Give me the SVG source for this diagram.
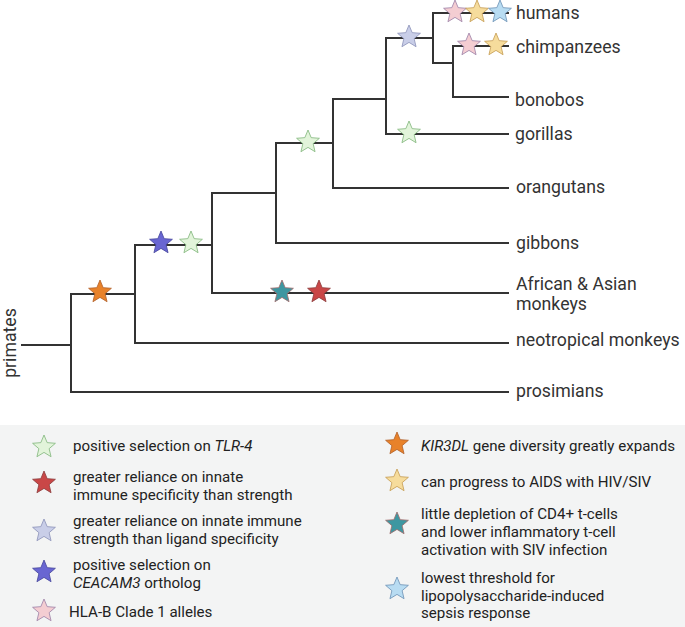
<svg xmlns="http://www.w3.org/2000/svg" xmlns:xlink="http://www.w3.org/1999/xlink" width="685" height="627" viewBox="0 0 685 627">
<style>
.br{fill:none;stroke:#333;stroke-width:2;stroke-linecap:square}
.lbl{font-family:Roboto,"Liberation Sans",sans-serif;font-size:17.7px;fill:#333}
.leg{font-family:Roboto,"Liberation Sans",sans-serif;font-size:15.1px;fill:#222}
.it{font-style:italic}
.green{fill:#e2f4da;stroke:#7fb57a;stroke-width:0.8}
.red{fill:#c94747;stroke:#8a3a3a;stroke-width:0.8}
.lav{fill:#c9cee8;stroke:#8a90b8;stroke-width:0.8}
.purp{fill:#6966d2;stroke:#44449a;stroke-width:0.8}
.pink{fill:#f4cdd2;stroke:#9a7fa6;stroke-width:0.8}
.orng{fill:#e8822a;stroke:#b0602a;stroke-width:0.8}
.yel{fill:#f6dc9c;stroke:#c49a50;stroke-width:0.8}
.teal{fill:#3e97a1;stroke:#a06a6a;stroke-width:0.8}
.blue{fill:#b8dcf2;stroke:#6a8fb4;stroke-width:0.8}
</style>
<defs>
<path id="star" d="M0,-12 L3.17,-4.37 L11.41,-3.71 L5.14,1.67 L7.05,9.71 L0,5.4 L-7.05,9.71 L-5.14,1.67 L-11.41,-3.71 L-3.17,-4.37 Z"/>
</defs>
<rect width="685" height="627" fill="#fff"/>
<g id="connectors">
<path class="br" d="M22,345 H71 M71,294 V392 M71,294 H135 M71,392 H508 M135,245 V343 M135,343 H508 M135,245 H212 M212,193 V293 M212,293 H508 M212,193 H276 M276,143 V243 M276,243 H508 M276,143 H333 M333,99 V188 M333,188 H508 M333,99 H386 M386,38 V134 M386,134 H508 M386,38 H433 M433,13 V63 M433,13 H508 M433,63 H453 M453,46 V97 M453,46 H508 M453,97 H508"/>
</g>
<g id="markers">
<use href="#star" class="orng" x="100" y="292"/>
<use href="#star" class="purp" x="161" y="243"/>
<use href="#star" class="green" x="191" y="243"/>
<use href="#star" class="teal" x="282" y="292"/>
<use href="#star" class="red" x="319" y="292"/>
<use href="#star" class="green" x="308" y="142"/>
<use href="#star" class="green" x="409" y="133"/>
<use href="#star" class="lav" x="409" y="37"/>
<use href="#star" class="pink" x="455" y="12"/>
<use href="#star" class="yel" x="477" y="12"/>
<use href="#star" class="blue" x="500" y="12"/>
<use href="#star" class="pink" x="469" y="45"/>
<use href="#star" class="yel" x="496" y="45"/>
</g>
<g id="root"><text class="lbl" transform="translate(16,343) rotate(-90)" text-anchor="middle">primates</text></g>
<g id="humans"><text class="lbl" x="516" y="19">humans</text></g>
<g id="chimpanzees"><text class="lbl" x="516" y="53">chimpanzees</text></g>
<g id="bonobos"><text class="lbl" x="515" y="106">bonobos</text></g>
<g id="gorillas"><text class="lbl" x="515" y="140">gorillas</text></g>
<g id="orangutans"><text class="lbl" x="516" y="193">orangutans</text></g>
<g id="gibbons"><text class="lbl" x="516" y="249">gibbons</text></g>
<g id="old-world-monkeys"><text class="lbl" x="516" y="290">African &amp; Asian</text><text class="lbl" x="516" y="310">monkeys</text></g>
<g id="neotropical-monkeys"><text class="lbl" x="516" y="346">neotropical monkeys</text></g>
<g id="prosimians"><text class="lbl" x="516" y="397">prosimians</text></g>
<g id="legend">
<rect x="0" y="425" width="685" height="202" fill="#f3f4f4"/>
<use href="#star" class="green" x="44" y="447"/>
<text class="leg" x="73" y="451">positive selection on <tspan class="it">TLR-4</tspan></text>
<use href="#star" class="red" x="44" y="483"/>
<text class="leg" x="73" y="482">greater reliance on innate</text>
<text class="leg" x="73" y="500">immune specificity than strength</text>
<use href="#star" class="lav" x="44" y="531"/>
<text class="leg" x="73" y="526">greater reliance on innate immune</text>
<text class="leg" x="73" y="544">strength than ligand specificity</text>
<use href="#star" class="purp" x="44" y="572"/>
<text class="leg" x="73" y="570">positive selection on</text>
<text class="leg" x="73" y="588"><tspan class="it">CEACAM3</tspan> ortholog</text>
<use href="#star" class="pink" x="44" y="611"/>
<text class="leg" x="69" y="617">HLA-B Clade 1 alleles</text>
<use href="#star" class="orng" x="397" y="444"/>
<text class="leg" x="421" y="451"><tspan class="it">KIR3DL</tspan> gene diversity greatly expands</text>
<use href="#star" class="yel" x="397" y="481"/>
<text class="leg" x="421" y="487">can progress to AIDS with HIV/SIV</text>
<use href="#star" class="teal" x="397" y="524"/>
<text class="leg" x="421" y="519">little depletion of CD4+ t-cells</text>
<text class="leg" x="421" y="537">and lower inflammatory t-cell</text>
<text class="leg" x="421" y="555">activation with SIV infection</text>
<use href="#star" class="blue" x="397" y="589"/>
<text class="leg" x="421" y="583">lowest threshold for</text>
<text class="leg" x="421" y="601">lipopolysaccharide-induced</text>
<text class="leg" x="421" y="618">sepsis response</text>
</g>
</svg>
